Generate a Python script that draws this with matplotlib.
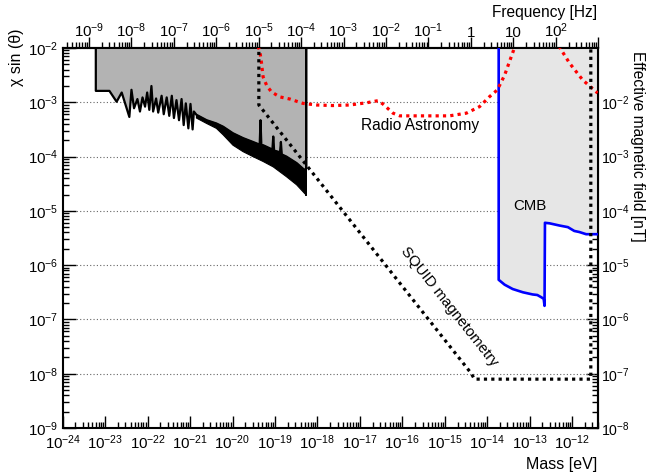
import matplotlib
matplotlib.use("Agg")
import matplotlib.pyplot as plt
import numpy as np
from matplotlib.ticker import LogLocator, FixedLocator, FuncFormatter, NullFormatter

plt.rcParams["font.family"] = ["Liberation Sans", "DejaVu Sans"]
plt.rcParams["mathtext.fontset"] = "custom"
plt.rcParams["mathtext.rm"] = "Liberation Sans"
plt.rcParams["mathtext.it"] = "Liberation Sans:italic"
plt.rcParams["mathtext.bf"] = "Liberation Sans:bold"

HZ_PER_EV = 2.418e14
M_MIN, M_MAX = 1e-24, 1e3 / HZ_PER_EV
CHI_MIN, CHI_MAX = 1e-9, 1e-2
TICK_FS = 10.8

# excluded region edge (log10 mass [eV], log10 chi sin theta)
excl_logm = [-23.22, -22.90, -22.73, -22.61, -22.53, -22.43, -22.38, -22.32, -22.24,
             -22.18, -22.12, -22.06, -22.01, -21.96, -21.91, -21.87, -21.80, -21.75,
             -21.67, -21.62, -21.55, -21.49, -21.43, -21.38, -21.32, -21.26, -21.20,
             -21.15, -21.10, -21.04, -20.99, -20.94, -20.91,
             -20.85, -20.61, -20.38, -20.22, -19.99, -19.75, -19.52, -19.36, -19.34,
             -19.32, -19.28, -19.06, -19.04, -19.02, -18.88, -18.86, -18.84, -18.73,
             -18.49, -18.30, -18.26]
excl_logchi = [-2.79, -2.79, -2.99, -2.82, -3.02, -3.27, -2.77, -3.11, -2.94,
               -3.17, -2.91, -3.08, -2.82, -3.14, -2.70, -3.17, -2.93, -3.19,
               -2.88, -3.22, -2.91, -3.25, -2.88, -3.29, -2.96, -3.33, -2.94,
               -3.42, -3.02, -3.48, -3.03, -3.50, -3.17,
               -3.23, -3.33, -3.39, -3.45, -3.57, -3.66, -3.73, -3.78, -3.33,
               -3.80, -3.79, -3.87, -3.63, -3.89, -3.92, -3.73, -3.96, -4.00,
               -4.12, -4.25, -4.21]
# lower edge of the noisy band at high mass
band_lo_logm = [-20.85, -20.61, -20.38, -20.22, -19.99, -19.75, -19.52, -19.28,
                -19.04, -18.73, -18.49, -18.30, -18.26]
band_lo_logchi = [-3.29, -3.39, -3.48, -3.60, -3.79, -3.91, -4.00, -4.09,
                  -4.19, -4.37, -4.52, -4.68, -4.71]

squid_logm = [-19.38, -19.38, -14.38, -14.30, -11.56, -11.56]
squid_logchi = [-1.80, -3.05, -7.99, -8.10, -8.10, -1.80]

radio_logm = [-19.48, -19.36, -19.32, -19.28, -19.19, -19.08, -18.89, -18.65, -18.34,
              -18.02, -17.64, -17.24, -16.85, -16.57, -16.46, -16.22, -16.06, -15.52,
              -14.89, -14.49, -14.18, -13.95, -13.76, -13.59, -13.48, -13.36, -13.24,
              -12.42, -12.30, -12.06, -11.75, -11.40]
radio_logchi = [-1.85, -2.04, -2.26, -2.53, -2.70, -2.81, -2.90, -2.94, -3.02,
                -3.05, -3.06, -3.05, -3.01, -2.97, -3.03, -3.20, -3.25, -3.25,
                -3.25, -3.20, -3.08, -2.90, -2.77, -2.50, -2.26, -2.00, -1.76,
                -1.76, -1.98, -2.28, -2.59, -2.83]

cmb_logm = [-13.73, -13.73, -13.59, -13.40, -13.16, -12.93, -12.82, -12.73, -12.67,
            -12.65, -12.64, -12.53, -12.30, -12.10, -11.95, -11.83, -11.67, -11.38]
cmb_logchi = [-1.80, -6.27, -6.36, -6.44, -6.50, -6.54, -6.55, -6.59, -6.62,
              -6.75, -5.22, -5.23, -5.27, -5.30, -5.37, -5.39, -5.43, -5.43]


def p10(v):
    return 10.0 ** np.asarray(v, dtype=float)


fig = plt.figure(figsize=(6.46, 4.76), dpi=100)
ax = fig.add_axes([62.7 / 646, 48 / 476, 535.6 / 646, 380 / 476])
ax.set_xscale("log")
ax.set_yscale("log")
ax.set_xlim(M_MIN, M_MAX)
ax.set_ylim(CHI_MIN, CHI_MAX)
ax.set_axisbelow(True)
ax.yaxis.grid(True, which="major", ls=(0, (1, 2)), color="#666666", lw=0.8)

# dark grey exclusion region with noisy black edge
em, ec = p10(excl_logm), p10(excl_logchi)
ax.fill(np.r_[em[0], em, em[-1]], np.r_[CHI_MAX, ec, CHI_MAX],
        color="#b3b3b3", lw=0, zorder=1)
n0 = excl_logm.index(band_lo_logm[0])
ax.fill(np.r_[em[n0:], p10(band_lo_logm)[::-1]], np.r_[ec[n0:], p10(band_lo_logchi)[::-1]],
        color="black", lw=0.8, zorder=2)
ax.plot(np.r_[em[0], em, em[-1]], np.r_[CHI_MAX, ec, CHI_MAX], color="black", lw=1.6, zorder=2)
ax.plot([em[-1], em[-1]], [p10(band_lo_logchi)[-1], CHI_MAX], color="black", lw=1.4, zorder=2)

# CMB region
cm, cc = p10(cmb_logm), p10(cmb_logchi)
ax.fill(np.r_[cm, M_MAX, M_MAX], np.r_[cc, cc[-1], CHI_MAX], color="#e6e6e6", lw=0, zorder=1)
ax.plot(cm, cc, color="#0000ff", lw=1.9, zorder=3)

ax.plot(p10(radio_logm), p10(radio_logchi), color="#ff0000", lw=2.3,
        ls=(0, (1, 1.3)), zorder=3)
ax.plot(p10(squid_logm), p10(squid_logchi), color="black", lw=2.3,
        ls=(0, (1, 1.3)), zorder=3)

ax.text(10 ** -15.59, 10 ** -3.42, "Radio Astronomy", fontsize=11.2, ha="center", va="center")
ax.text(10 ** -13.0, 10 ** -4.91, "CMB", fontsize=10.8, ha="center", va="center")
ax.text(10 ** -14.89, 10 ** -6.77, "SQUID magnetometry", fontsize=10.8, ha="center",
        va="center", rotation=-51.7, rotation_mode="anchor")

for sp in ax.spines.values():
    sp.set_linewidth(1.5)
ax.tick_params(which="both", direction="in", top=False, right=False, labelsize=TICK_FS)
ax.tick_params(which="major", length=9, width=1)
ax.tick_params(which="minor", length=4.5, width=1)
ax.tick_params(axis="x", pad=4)
ax.tick_params(axis="y", pad=3)
ax.xaxis.set_major_locator(LogLocator(base=10, numticks=30))
ax.xaxis.set_minor_locator(LogLocator(base=10, subs=np.arange(2, 10), numticks=30))
ax.xaxis.set_minor_formatter(NullFormatter())
ax.yaxis.set_minor_locator(LogLocator(base=10, subs=np.arange(2, 10), numticks=30))
ax.yaxis.set_minor_formatter(NullFormatter())


def freq_fmt(v, pos):
    e = int(round(np.log10(v)))
    if e >= 3:
        return ""
    if e == 0:
        return "1"
    if e == 1:
        return "10"
    return r"$10^{%d}$" % e


top = ax.secondary_xaxis("top", functions=(lambda m: m * HZ_PER_EV, lambda f: f / HZ_PER_EV))
top.xaxis.set_major_locator(LogLocator(base=10, numticks=30))
top.xaxis.set_minor_locator(LogLocator(base=10, subs=np.arange(2, 10), numticks=30))
top.xaxis.set_major_formatter(FuncFormatter(freq_fmt))
top.xaxis.set_minor_formatter(NullFormatter())
top.tick_params(which="both", direction="out", labelsize=TICK_FS, pad=-2)
top.tick_params(which="major", length=8, width=1)
top.tick_params(which="minor", length=4, width=1)
top.spines["top"].set_linewidth(1.5)

right = ax.secondary_yaxis("right", functions=(lambda c: c * 10, lambda b: b / 10))
right.yaxis.set_major_locator(FixedLocator([1e-8, 1e-7, 1e-6, 1e-5, 1e-4, 1e-3, 1e-2]))
right.yaxis.set_minor_locator(LogLocator(base=10, subs=np.arange(2, 10), numticks=30))
right.yaxis.set_minor_formatter(NullFormatter())
right.tick_params(which="both", direction="in", labelsize=10.2, pad=2)
right.tick_params(which="major", length=9, width=1)
right.tick_params(which="minor", length=4.5, width=1)
right.spines["right"].set_linewidth(1.5)

fig.text(16 / 646, 1 - 57 / 476, "χ sin (θ)", rotation=90, fontsize=11.5, ha="center", va="center")
fig.text(597 / 646, 1 - 12 / 476, "Frequency [Hz]", fontsize=11.2, ha="right", va="center")
fig.text(597 / 646, 1 - 465 / 476, "Mass [eV]", fontsize=11.5, ha="right", va="center")
fig.text(637 / 646, 1 - 146 / 476, "Effective magnetic field [nT]", rotation=-90,
         fontsize=11.2, ha="center", va="center")

fig.savefig("out.png", dpi=100)
